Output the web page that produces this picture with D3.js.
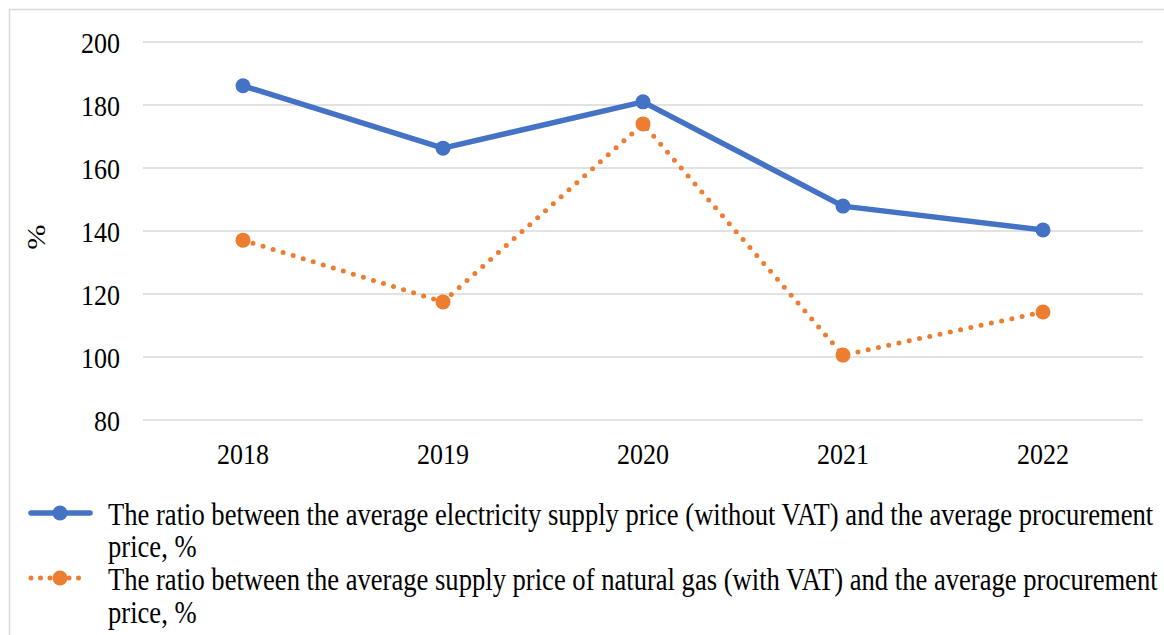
<!DOCTYPE html>
<html><head><meta charset="utf-8">
<script src="https://cdn.jsdelivr.net/npm/d3@7"></script>
<style>body{margin:0;background:#fff}svg{display:block}</style>
</head><body><svg id="c" width="1164" height="635"></svg>
<script>
const years = ["2018","2019","2020","2021","2022"];
const electricity = [186.1, 166.3, 181.0, 147.9, 140.3];
const gas = [137.1, 117.5, 174.0, 100.6, 114.3];
const yTicks = [80,100,120,140,160,180,200];
const seriesNames = [
  ["The ratio between the average electricity supply price (without VAT) and the average procurement","price, %"],
  ["The ratio between the average supply price of natural gas (with VAT) and the average procurement","price, %"]
];
const colors = ["#4472C4","#ED7D31"];
const FONT = "Liberation Serif";
const FS = 26;
const LFS = 26.6;
const K = 1.17; // vertical stretch of text as in the reference

const svg = d3.select("#c");
svg.append("rect").attr("x",9.5).attr("y",9.5).attr("width",1160).attr("height",640).attr("fill","none").attr("stroke","#d9d9d9").attr("stroke-width",1.5);

const x = d3.scaleBand().domain(years).range([143,1143]);
const y = d3.scaleLinear().domain([80,200]).range([420,42]);

svg.append("g").selectAll("line").data(yTicks).join("line")
  .attr("x1",143).attr("x2",1143).attr("y1",d=>y(d)).attr("y2",d=>y(d))
  .attr("stroke","#d9d9d9").attr("stroke-width",1.5);

const yAxis = svg.append("g").attr("transform","translate(143,0)")
  .call(d3.axisLeft(y).tickValues(yTicks).tickSize(0).tickPadding(23));
yAxis.select(".domain").remove();
yAxis.selectAll("text").attr("font-family",FONT).attr("font-size",FS).attr("fill","#000")
  .attr("y",0).attr("dy","0.34em").attr("transform",`scale(1,${K})`);

const xAxis = svg.append("g").attr("transform","translate(0,420)")
  .call(d3.axisBottom(x).tickSize(0));
xAxis.select(".domain").remove();
xAxis.selectAll("text").attr("font-family",FONT).attr("font-size",FS).attr("fill","#000")
  .attr("y",34/K).attr("dy","0.34em").attr("transform",`scale(1,${K})`);

svg.append("text").attr("transform",`translate(36,237) rotate(-90) scale(${K},1)`).attr("text-anchor","middle")
  .attr("dy","0.34em").attr("font-family",FONT).attr("font-size",FS).text("%");

const cx = d => x(d) + x.bandwidth()/2;
const line = d3.line().x((d,i)=>cx(years[i])).y(d=>y(d));

svg.append("path").datum(electricity).attr("d",line).attr("fill","none").attr("stroke",colors[0]).attr("stroke-width",5.5).attr("stroke-linejoin","round");
svg.append("path").datum(gas).attr("d",line).attr("fill","none").attr("stroke",colors[1]).attr("stroke-width",5).attr("stroke-linecap","round").attr("stroke-dasharray","0 10.5");

svg.append("g").selectAll("circle").data(electricity).join("circle")
  .attr("cx",(d,i)=>cx(years[i])).attr("cy",d=>y(d)).attr("r",7.5).attr("fill",colors[0]);
svg.append("g").selectAll("circle").data(gas).join("circle")
  .attr("cx",(d,i)=>cx(years[i])).attr("cy",d=>y(d)).attr("r",7.5).attr("fill",colors[1]);

// legend
const lg = svg.append("g");
const ly = [513, 578];
const baselines = [[525,557],[590,623]];
lg.append("line").attr("x1",31).attr("x2",90).attr("y1",ly[0]).attr("y2",ly[0]).attr("stroke",colors[0]).attr("stroke-width",5.5).attr("stroke-linecap","round");
lg.append("circle").attr("cx",60).attr("cy",ly[0]).attr("r",7.5).attr("fill",colors[0]);
lg.append("line").attr("x1",31).attr("x2",88).attr("y1",ly[1]).attr("y2",ly[1]).attr("stroke",colors[1]).attr("stroke-width",5).attr("stroke-linecap","round").attr("stroke-dasharray","0 9.5");
lg.append("circle").attr("cx",60).attr("cy",ly[1]).attr("r",7.5).attr("fill",colors[1]);
seriesNames.forEach((lines,k)=>{
  lines.forEach((t,j)=>{
    lg.append("text").attr("x",108).attr("y",baselines[k][j]/K).attr("transform",`scale(1,${K})`)
      .attr("font-family",FONT).attr("font-size",LFS).attr("fill","#000").text(t);
  });
});
</script></body></html>
